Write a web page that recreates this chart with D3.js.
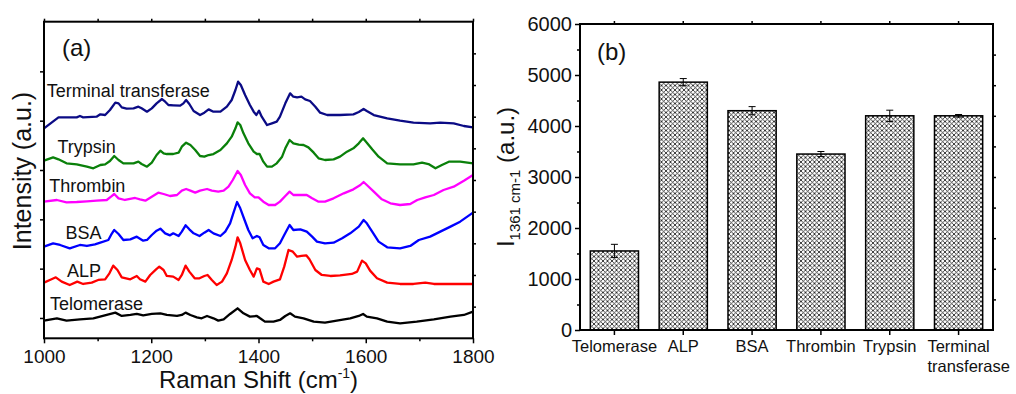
<!DOCTYPE html>
<html><head><meta charset="utf-8">
<script src="https://cdn.jsdelivr.net/npm/d3@7"></script>
<style>
html,body{margin:0;padding:0;background:#fff;}
svg{display:block;font-family:"Liberation Sans",Arial,sans-serif;}
</style></head><body>
<svg id="fig" width="1016" height="394"></svg>
<script>
// ---------- Panel (a): offset Raman spectra ----------
const wnTicks = [1000, 1200, 1400, 1600, 1800];
const wnMinor = [1100, 1300, 1500, 1700];
const intensityTicksLeft = [61, 209, 357, 505, 653, 801];
const intensityTicksRight = [95, 190, 285, 380, 475, 570, 665, 760, 855];

const specTerminal = [[1000,630],[1027,663],[1061,663],[1067,667],[1073,663],[1098,665],[1105,672],[1114,670],[1123,685],[1133,707],[1139,705],[1145,693],[1154,689],[1167,690],[1176,695],[1182,690],[1192,680],[1201,690],[1210,705],[1220,718],[1226,710],[1232,700],[1241,699],[1254,698],[1260,705],[1265,715],[1271,703],[1279,682],[1291,670],[1299,677],[1307,687],[1316,680],[1329,680],[1341,695],[1350,715],[1357,745],[1362,770],[1367,760],[1375,730],[1384,700],[1391,680],[1396,670],[1401,683],[1406,665],[1416,640],[1425,645],[1434,650],[1440,665],[1450,705],[1459,735],[1465,725],[1472,723],[1480,725],[1487,717],[1496,712],[1506,695],[1515,677],[1528,670],[1552,670],[1577,672],[1587,679],[1596,688],[1602,682],[1615,670],[1640,660],[1664,653],[1689,647],[1720,645],[1739,647],[1764,645],[1783,637],[1800,633]];
const specTrypsin = [[1000,533],[1017,543],[1027,537],[1042,525],[1061,522],[1080,515],[1092,510],[1105,520],[1114,522],[1123,532],[1131,547],[1139,535],[1148,525],[1167,525],[1176,530],[1182,523],[1192,515],[1201,527],[1210,550],[1217,563],[1223,555],[1229,553],[1241,553],[1251,557],[1257,575],[1265,587],[1273,580],[1282,565],[1291,547],[1299,545],[1307,550],[1316,553],[1329,565],[1341,585],[1350,605],[1357,630],[1361,648],[1366,640],[1372,615],[1381,585],[1391,560],[1397,553],[1402,553],[1409,530],[1416,515],[1425,515],[1434,525],[1444,545],[1450,570],[1458,595],[1465,585],[1475,581],[1484,580],[1493,573],[1503,557],[1512,540],[1524,535],[1540,537],[1552,545],[1565,560],[1577,570],[1587,585],[1595,600],[1602,587],[1612,567],[1624,545],[1640,525],[1664,522],[1689,522],[1705,527],[1717,523],[1730,510],[1742,520],[1755,530],[1776,530],[1800,525]];
const specThrombin = [[1000,410],[1024,415],[1042,408],[1061,409],[1080,411],[1098,413],[1117,415],[1125,425],[1131,433],[1139,420],[1151,415],[1170,421],[1179,417],[1189,413],[1201,425],[1213,437],[1223,433],[1235,427],[1248,430],[1257,443],[1265,448],[1273,443],[1282,437],[1291,443],[1304,448],[1313,443],[1325,440],[1335,443],[1344,455],[1352,475],[1361,502],[1367,490],[1375,460],[1384,435],[1393,423],[1400,423],[1409,410],[1419,400],[1431,400],[1440,410],[1450,427],[1458,440],[1465,430],[1478,430],[1490,430],[1500,420],[1512,410],[1524,410],[1540,420],[1559,435],[1577,447],[1590,460],[1596,469],[1602,460],[1615,440],[1630,417],[1646,405],[1664,400],[1683,403],[1696,415],[1711,423],[1727,430],[1745,445],[1764,455],[1783,473],[1800,490]];
const specBSA = [[1000,275],[1017,285],[1030,280],[1048,270],[1067,280],[1080,277],[1095,282],[1105,287],[1120,295],[1125,310],[1131,325],[1139,313],[1148,295],[1161,297],[1173,305],[1185,293],[1192,295],[1201,310],[1210,323],[1217,329],[1226,315],[1235,309],[1241,315],[1251,307],[1257,320],[1264,339],[1271,327],[1279,315],[1290,307],[1299,317],[1307,325],[1316,315],[1329,307],[1338,320],[1347,345],[1353,375],[1360,409],[1366,390],[1374,355],[1381,325],[1389,300],[1397,307],[1402,303],[1409,280],[1419,270],[1431,270],[1440,285],[1448,310],[1458,340],[1465,325],[1478,327],[1490,320],[1500,305],[1509,290],[1524,285],[1540,287],[1556,300],[1571,315],[1587,335],[1596,355],[1602,345],[1612,320],[1624,290],[1640,273],[1664,270],[1683,277],[1699,295],[1720,305],[1739,320],[1758,335],[1776,350],[1800,377]];
const specALP = [[1000,167],[1014,177],[1022,183],[1033,170],[1048,160],[1062,170],[1073,163],[1089,167],[1101,175],[1114,177],[1122,195],[1129,218],[1137,205],[1145,183],[1161,177],[1173,187],[1179,177],[1189,170],[1198,190],[1209,207],[1215,215],[1223,205],[1229,187],[1241,185],[1251,175],[1257,190],[1264,218],[1271,200],[1281,180],[1290,180],[1299,187],[1305,190],[1313,175],[1322,160],[1332,170],[1341,195],[1350,235],[1357,275],[1361,303],[1366,285],[1375,235],[1384,205],[1391,185],[1397,210],[1402,207],[1409,170],[1419,163],[1428,170],[1440,177],[1448,215],[1456,265],[1464,260],[1472,245],[1480,247],[1489,249],[1495,237],[1506,205],[1518,190],[1534,187],[1552,189],[1574,193],[1584,200],[1593,233],[1600,225],[1608,203],[1621,180],[1640,167],[1664,163],[1689,163],[1711,167],[1727,163],[1800,163]];
const specTelomerase = [[1000,53],[1024,60],[1042,53],[1067,57],[1092,60],[1117,70],[1133,77],[1145,67],[1161,70],[1173,73],[1185,69],[1201,73],[1217,75],[1229,70],[1248,67],[1257,70],[1264,77],[1273,70],[1285,63],[1294,60],[1304,67],[1316,60],[1325,53],[1335,57],[1347,73],[1361,90],[1372,75],[1384,65],[1397,67],[1403,60],[1412,50],[1428,50],[1440,55],[1450,67],[1459,75],[1468,65],[1484,60],[1503,50],[1524,47],[1546,53],[1571,60],[1587,67],[1595,73],[1602,65],[1621,60],[1640,50],[1664,45],[1695,50],[1727,57],[1758,65],[1783,70],[1800,80]];

const spectraNames = ["Terminal transferase", "Trypsin", "Thrombin", "BSA", "ALP", "Telomerase"];
const spectraData = [specTerminal, specTrypsin, specThrombin, specBSA, specALP, specTelomerase];
const spectraColors = ["#0b0b85", "#0a800a", "#ff00ff", "#0000ff", "#ff0000", "#000000"];
// label anchor (wavenumber, intensity) for each trace name
const spectraLabelAt = [[1005,725],[1025,557],[1010,438],[1040,297],[1043,183],[1011,85]];

// ---------- Panel (b): peak intensity at 1361 cm-1 ----------
const barCategories = ["Telomerase", "ALP", "BSA", "Thrombin", "Trypsin", "Terminal transferase"];
const barLabelLines = [["Telomerase"], ["ALP"], ["BSA"], ["Thrombin"], ["Trypsin"], ["Terminal", "transferase"]];
const barValues = [1550, 4860, 4300, 3450, 4200, 4200];
const barErrors = [130, 70, 80, 50, 110, 25];
const barTicks = [0, 1000, 2000, 3000, 4000, 5000, 6000];
const barMinorTicks = [500, 1500, 2500, 3500, 4500, 5500];
const barRightTicks = [600, 1200, 1800, 2400, 3000, 3600, 4200, 4800, 5400];

const svg = d3.select("#fig");
const FONT = '"Liberation Sans", Arial, sans-serif';

// ================= Panel (a) =================
const A = {left: 44, right: 473, top: 21.7, bottom: 338.3};
const xA = d3.scaleLinear().domain([1000, 1800]).range([A.left, A.right]);
const yA = d3.scaleLinear().domain([0, 950]).range([A.bottom, A.top]);
const gA = svg.append("g");

const lineA = d3.line().x(d => xA(d[0])).y(d => yA(d[1])).curve(d3.curveLinear);
gA.selectAll("path.spec").data(spectraData).join("path")
  .attr("class", "spec")
  .attr("d", lineA)
  .attr("fill", "none")
  .attr("stroke", (d, i) => spectraColors[i])
  .attr("stroke-width", 2.3)
  .attr("stroke-linejoin", "round");

gA.selectAll("text.slabel").data(spectraNames).join("text")
  .attr("class", "slabel")
  .attr("x", (d, i) => xA(spectraLabelAt[i][0]))
  .attr("y", (d, i) => yA(spectraLabelAt[i][1]))
  .attr("font-size", 18).attr("fill", "#111")
  .text(d => d);

// axes
const axA_bottom = gA.append("g").attr("transform", `translate(0,${A.bottom})`)
  .call(d3.axisBottom(xA).tickValues(wnTicks).tickSize(5).tickPadding(6).tickFormat(d3.format("d")));
gA.append("g").attr("transform", `translate(0,${A.bottom})`)
  .call(d3.axisBottom(xA).tickValues(wnMinor).tickSize(3).tickFormat(""));
gA.append("g").attr("transform", `translate(0,${A.top})`)
  .call(d3.axisTop(xA).tickValues(wnMinor.concat(wnTicks)).tickSize(3).tickFormat(""));
gA.append("g").attr("transform", `translate(${A.left},0)`)
  .call(d3.axisLeft(yA).tickValues(intensityTicksLeft).tickSize(4).tickFormat(""));
gA.append("g").attr("transform", `translate(${A.right},0)`)
  .call(d3.axisRight(yA).tickValues(intensityTicksRight).tickSize(3).tickFormat(""));
gA.selectAll(".domain").remove();
gA.selectAll(".tick line").attr("stroke", "#000").attr("stroke-width", 1.5);
axA_bottom.selectAll("text").attr("font-size", 19).attr("font-family", FONT).attr("fill", "#111");

gA.append("rect").attr("x", A.left).attr("y", A.top)
  .attr("width", A.right - A.left).attr("height", A.bottom - A.top)
  .attr("fill", "none").attr("stroke", "#000").attr("stroke-width", 2);

gA.append("text").attr("x", 62).attr("y", 56).attr("font-size", 24).attr("fill", "#111").text("(a)");

const xTitle = gA.append("text").attr("x", (A.left + A.right) / 2).attr("y", 388)
  .attr("text-anchor", "middle").attr("font-size", 24).attr("fill", "#111");
xTitle.append("tspan").text("Raman Shift (cm");
xTitle.append("tspan").attr("font-size", 14).attr("dy", -10).text("-1");
xTitle.append("tspan").attr("dy", 10).text(")");

gA.append("text").attr("transform", `translate(31,171) rotate(-90)`)
  .attr("text-anchor", "middle").attr("font-size", 25).attr("fill", "#111")
  .text("Intensity (a.u.)");

// ================= Panel (b) =================
const B = {left: 580, right: 993, top: 24, bottom: 330};
const xB = d3.scaleBand().domain(barCategories).range([B.left, B.right]).paddingInner(0.3).paddingOuter(0.15);
const yB = d3.scaleLinear().domain([0, 6000]).range([B.bottom, B.top]);
const gB = svg.append("g");

const defs = svg.append("defs");
const P = 4.5;
const pat = defs.append("pattern").attr("id", "xhatch").attr("patternUnits", "userSpaceOnUse")
  .attr("width", P).attr("height", P);
pat.append("rect").attr("width", P).attr("height", P).attr("fill", "#fff");
pat.append("path").attr("d", `M0,0L${P},${P}M${P},0L0,${P}M-1,1L1,-1M${P-1},${P+1}L${P+1},${P-1}M-1,${P-1}L1,${P+1}M${P-1},-1L${P+1},1`)
  .attr("stroke", "#111").attr("stroke-width", 0.8);

gB.selectAll("rect.bar").data(barValues).join("rect")
  .attr("class", "bar")
  .attr("x", (d, i) => xB(barCategories[i]))
  .attr("y", d => yB(d))
  .attr("width", xB.bandwidth())
  .attr("height", d => yB(0) - yB(d))
  .attr("fill", "url(#xhatch)")
  .attr("stroke", "#000").attr("stroke-width", 1.5);

// error bars
const eb = gB.selectAll("g.err").data(barValues).join("g").attr("class", "err")
  .attr("transform", (d, i) => `translate(${xB(barCategories[i]) + xB.bandwidth() / 2},0)`);
eb.append("line").attr("y1", (d, i) => yB(d - barErrors[i])).attr("y2", (d, i) => yB(d + barErrors[i]))
  .attr("stroke", "#000").attr("stroke-width", 1);
eb.append("line").attr("x1", -3.5).attr("x2", 3.5)
  .attr("y1", (d, i) => yB(d + barErrors[i])).attr("y2", (d, i) => yB(d + barErrors[i]))
  .attr("stroke", "#000").attr("stroke-width", 1);
eb.append("line").attr("x1", -3.5).attr("x2", 3.5)
  .attr("y1", (d, i) => yB(d - barErrors[i])).attr("y2", (d, i) => yB(d - barErrors[i]))
  .attr("stroke", "#000").attr("stroke-width", 1);

const axB_left = gB.append("g").attr("transform", `translate(${B.left},0)`)
  .call(d3.axisLeft(yB).tickValues(barTicks).tickSize(5).tickPadding(3).tickFormat(d3.format("d")));
gB.append("g").attr("transform", `translate(${B.left},0)`)
  .call(d3.axisLeft(yB).tickValues(barMinorTicks).tickSize(3).tickFormat(""));
gB.append("g").attr("transform", `translate(${B.right},0)`)
  .call(d3.axisRight(yB).tickValues(barRightTicks).tickSize(3).tickFormat(""));
gB.append("g").attr("transform", `translate(0,${B.top})`)
  .call(d3.axisTop(xB).tickSize(3).tickFormat(""));
const axB_bottom = gB.append("g").attr("transform", `translate(0,${B.bottom})`)
  .call(d3.axisBottom(xB).tickSize(5).tickFormat(""));
gB.selectAll(".domain").remove();
gB.selectAll(".tick line").attr("stroke", "#000").attr("stroke-width", 1.5);
axB_left.selectAll("text").attr("font-size", 20).attr("font-family", FONT).attr("fill", "#111");

// category labels (two-line label is left aligned on its first line)
barLabelLines.forEach((lines, i) => {
  const cx = xB(barCategories[i]) + xB.bandwidth() / 2;
  const t = gB.append("text").attr("font-size", 16.5).attr("fill", "#111").attr("y", 352);
  lines.forEach((ln, j) => t.append("tspan").attr("dy", j ? 20 : 0).text(ln));
  if (lines.length === 1) {
    t.attr("text-anchor", "middle").select("tspan").attr("x", cx);
  } else {
    const w0 = t.select("tspan").node().getComputedTextLength();
    t.selectAll("tspan").attr("x", cx - w0 / 2);
  }
});

gB.append("rect").attr("x", B.left).attr("y", B.top)
  .attr("width", B.right - B.left).attr("height", B.bottom - B.top)
  .attr("fill", "none").attr("stroke", "#000").attr("stroke-width", 2);

gB.append("text").attr("x", 597).attr("y", 60).attr("font-size", 24).attr("fill", "#111").text("(b)");

const yTitleB = gB.append("text").attr("transform", `translate(514,${(B.top + B.bottom) / 2}) rotate(-90)`)
  .attr("text-anchor", "middle").attr("font-size", 24).attr("fill", "#111");
yTitleB.append("tspan").text("I");
yTitleB.append("tspan").attr("font-size", 15).attr("dy", 6).text("1361 cm-1");
yTitleB.append("tspan").attr("dy", -6).text(" (a.u.)");
</script>
</body></html>
